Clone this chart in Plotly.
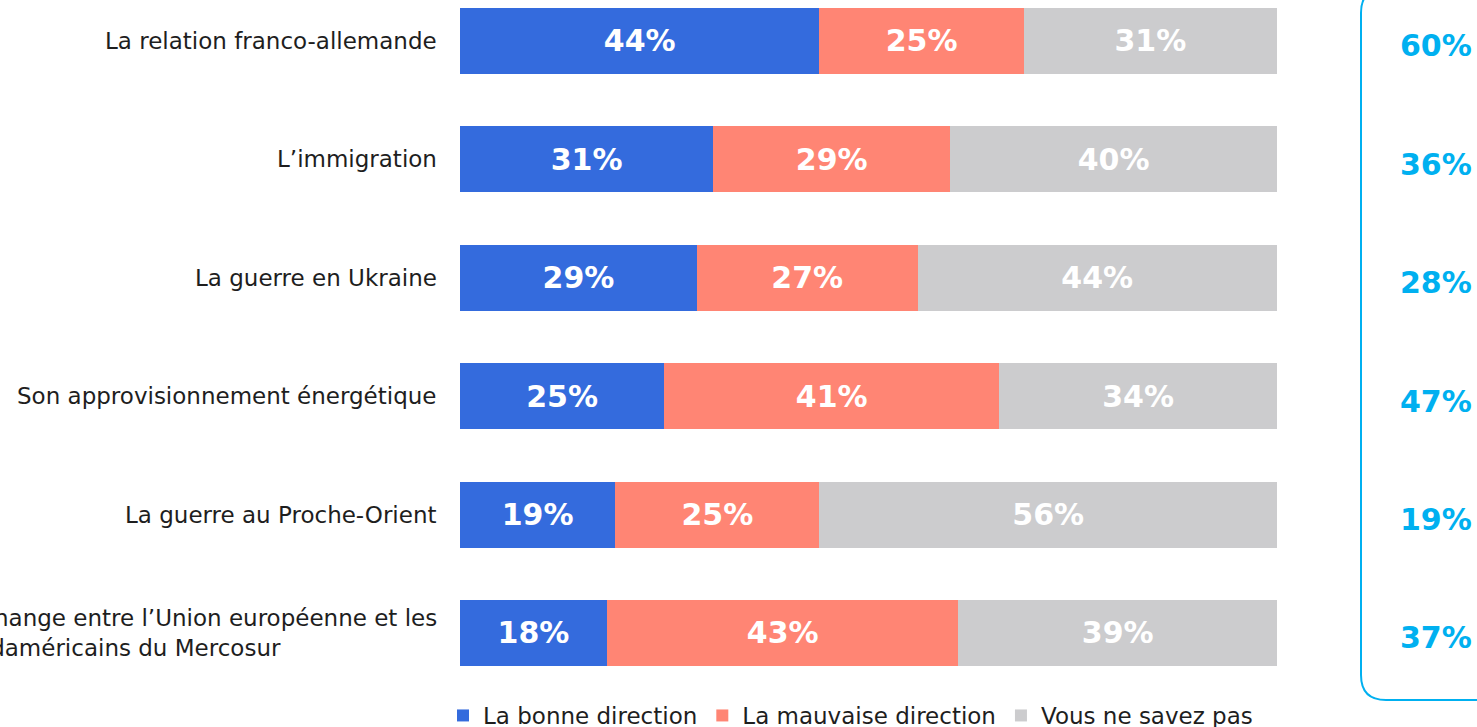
import plotly.graph_objects as go

# Survey topics, shown top to bottom
topics = [
    "La relation franco-allemande",
    "L’immigration",
    "La guerre en Ukraine",
    "Son approvisionnement énergétique",
    "La guerre au Proche-Orient",
    "Libre-échange entre l’Union européenne et les<br>pays sudaméricains du Mercosur",
]
bonne = [44, 31, 29, 25, 19, 18]
mauvaise = [25, 29, 27, 41, 25, 43]
nsp = [31, 40, 44, 34, 56, 39]
side_values = [60, 36, 28, 47, 19, 37]

series = [
    ("La bonne direction", bonne, "#346BDD"),
    ("La mauvaise direction", mauvaise, "#FF8574"),
    ("Vous ne savez pas", nsp, "#CCCCCE"),
]

FONT = "DejaVu Sans"
TEXT = "#1E1E1E"
W, H = 1477, 727
L, R, T, B = 460, 200, 0, 47
plot_w = W - L - R
plot_h = H - T - B


def px_x(p):
    return (p - L) / plot_w


def px_y(p):
    return (H - B - p) / plot_h


fig = go.Figure()
for name, vals, color in series:
    fig.add_trace(go.Bar(
        name=name,
        y=topics,
        x=vals,
        orientation="h",
        marker=dict(color=color, line=dict(width=0)),
        text=[f"{v}%" for v in vals],
        textposition="inside",
        insidetextanchor="middle",
        textangle=0,
        insidetextfont=dict(family=FONT, size=30, color="white", weight="bold"),
        hoverinfo="skip",
    ))

# Category labels: right edge flush with the bars, lines left-aligned
for topic in topics:
    fig.add_annotation(
        x=px_x(439), xref="paper",
        y=topic, yref="y",
        text=topic, showarrow=False,
        font=dict(family=FONT, size=23, color=TEXT),
        xanchor="right", yanchor="middle", align="left",
    )

# Side column of values inside a rounded frame
for topic, v in zip(topics, side_values):
    fig.add_annotation(
        x=px_x(1436), xref="paper",
        y=topic, yref="y",
        text=f"<b>{v}%</b>", showarrow=False,
        font=dict(family=FONT, size=30, color="#00B0F0"),
        xanchor="center", yanchor="middle", yshift=-5,
    )

xl, xr = px_x(1361), px_x(1520)
yt, yb = px_y(-12), px_y(700)
rx, ry = 25 / plot_w, 25 / plot_h
path = (f"M {xr},{yt} L {xl + rx},{yt} Q {xl},{yt} {xl},{yt - ry} "
        f"L {xl},{yb + ry} Q {xl},{yb} {xl + rx},{yb} L {xr},{yb}")
fig.add_shape(type="path", path=path, xref="paper", yref="paper",
              line=dict(color="#00B0F0", width=2))

n = len(topics)
fig.update_layout(
    barmode="stack",
    bargap=0.443,
    width=W, height=H,
    margin=dict(l=L, r=R, t=T, b=B, autoexpand=False),
    paper_bgcolor="white",
    plot_bgcolor="white",
    font=dict(family=FONT, size=23, color=TEXT),
    xaxis=dict(range=[0, 100], visible=False, fixedrange=True),
    yaxis=dict(
        type="category",
        range=[n - 1 + 0.397, -0.346],
        showgrid=False, zeroline=False, showline=False,
        ticks="", showticklabels=False,
        automargin=False,
    ),
    legend=dict(
        orientation="h",
        x=px_x(443), xanchor="left",
        y=px_y(694), yanchor="top",
        font=dict(family=FONT, size=23, color=TEXT),
        traceorder="normal",
        itemwidth=30,
        bgcolor="rgba(0,0,0,0)",
    ),
    showlegend=True,
)

fig.write_html("out.html")
